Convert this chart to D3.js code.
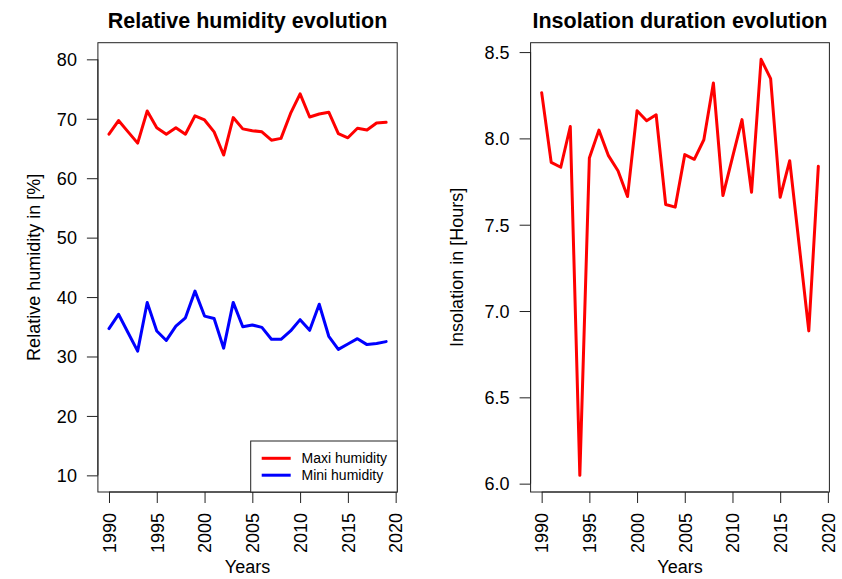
<!DOCTYPE html>
<html>
<head>
<meta charset="utf-8">
<script src="https://cdn.jsdelivr.net/npm/d3@7"></script>
<style>
  html, body { margin: 0; padding: 0; background: #fff; }
  svg { display: block; font-family: "Liberation Sans", Arial, sans-serif; }
</style>
</head>
<body>
<svg id="chart" width="842" height="579"></svg>
<script>
// ---------- data ----------
const years = d3.range(1990, 2020);
const maxiHumidity = [67.4, 69.7, 67.8, 65.9, 71.3, 68.5, 67.4, 68.5, 67.4, 70.5,
                      69.8, 67.8, 63.9, 70.2, 68.3, 68.0, 67.8, 66.4, 66.7, 70.9,
                      74.2, 70.3, 70.8, 71.1, 67.5, 66.8, 68.4, 68.1, 69.3, 69.4];
const miniHumidity = [34.7, 37.1, 34.0, 30.9, 39.1, 34.3, 32.7, 35.1, 36.5, 41.0,
                      36.8, 36.4, 31.4, 39.1, 35.0, 35.3, 34.9, 32.9, 32.9, 34.3,
                      36.2, 34.4, 38.8, 33.4, 31.2, 32.1, 33.0, 32.0, 32.2, 32.5];
const insolation = [8.265, 7.861, 7.833, 8.069, 6.048, 7.887, 8.048, 7.900, 7.813, 7.663,
                    8.160, 8.102, 8.137, 7.617, 7.602, 7.906, 7.879, 7.992, 8.321, 7.669,
                    7.890, 8.109, 7.688, 8.458, 8.346, 7.659, 7.871, 7.378, 6.885, 7.838];
const xTicks = [1990, 1995, 2000, 2005, 2010, 2015, 2020];
const humTicks = [10, 20, 30, 40, 50, 60, 70, 80];
const insTicks = [6.0, 6.5, 7.0, 7.5, 8.0, 8.5];
const legendLabels = ["Maxi humidity", "Mini humidity"];
const seriesColors = ["#FF0000", "#0000FF"];

// ---------- layout ----------
const svg = d3.select("#chart");
const plotTop = 42.7, plotBottom = 492;
const TICK = 11;
const FS = 18;

function ext(lo, hi) { const r = hi - lo; return [lo - 0.04 * r, hi + 0.04 * r]; }

function panel(opts) {
  const g = svg.append("g");
  const x = d3.scaleLinear().domain(ext(1990, 2019)).range([opts.left, opts.right]);
  const y = d3.scaleLinear().domain(opts.yDomain).range([plotBottom, plotTop]);

  opts.series.forEach((s) => {
    const line = d3.line().x((d, j) => x(years[j])).y(d => y(d));
    g.append("path").datum(s.values)
      .attr("d", line)
      .attr("fill", "none")
      .attr("stroke", s.color)
      .attr("stroke-width", 3)
      .attr("stroke-linejoin", "round")
      .attr("stroke-linecap", "round");
  });

  g.append("rect")
    .attr("x", opts.left).attr("y", plotTop)
    .attr("width", opts.right - opts.left).attr("height", plotBottom - plotTop)
    .attr("fill", "none").attr("stroke", "#222").attr("stroke-width", 1);

  const xa = g.append("g").attr("transform", `translate(0,${plotBottom})`)
    .call(d3.axisBottom(x).tickValues(xTicks).tickSize(TICK).tickSizeOuter(0).tickFormat(d3.format("d")));
  xa.select(".domain").attr("d", `M${x(1990)},0H${x(2020)}`).attr("stroke", "#222");
  xa.selectAll(".tick line").attr("stroke", "#222");
  xa.selectAll(".tick text")
    .attr("font-size", FS).attr("fill", "#000")
    .attr("text-anchor", "end")
    .attr("transform", "rotate(-90)")
    .attr("x", -(TICK + 10)).attr("y", 0).attr("dy", "0.35em");

  const ya = g.append("g").attr("transform", `translate(${opts.left},0)`)
    .call(d3.axisLeft(y).tickValues(opts.yTicks).tickSize(TICK).tickSizeOuter(0).tickFormat(opts.fmt));
  ya.select(".domain").attr("d", `M0,${y(opts.yTicks[0])}V${y(opts.yTicks[opts.yTicks.length - 1])}`).attr("stroke", "#222");
  ya.selectAll(".tick line").attr("stroke", "#222");
  ya.selectAll(".tick text")
    .attr("font-size", FS).attr("fill", "#000")
    .attr("x", -(TICK + 10)).attr("dy", "0.35em");

  const cx = (opts.left + opts.right) / 2;
  g.append("text").attr("x", cx).attr("y", 28)
    .attr("text-anchor", "middle").attr("font-weight", "bold").attr("font-size", 21.5)
    .text(opts.title);
  g.append("text").attr("x", cx).attr("y", 573)
    .attr("text-anchor", "middle").attr("font-size", FS).text("Years");
  g.append("text")
    .attr("transform", `translate(${opts.ylabX},${(plotTop + plotBottom) / 2}) rotate(-90)`)
    .attr("text-anchor", "middle").attr("font-size", FS).text(opts.ylab);
  return { g, x, y };
}

const p1 = panel({
  left: 97.9, right: 397.2,
  yDomain: ext(10, 80), yTicks: humTicks, fmt: d3.format("d"),
  title: "Relative humidity evolution", ylab: "Relative humidity in [%]", ylabX: 39.5,
  series: [{ values: maxiHumidity, color: seriesColors[0] }, { values: miniHumidity, color: seriesColors[1] }]
});

const p2 = panel({
  left: 530.6, right: 829.4,
  yDomain: ext(d3.min(insolation), d3.max(insolation)), yTicks: insTicks, fmt: d3.format(".1f"),
  title: "Insolation duration evolution", ylab: "Insolation in [Hours]", ylabX: 463.3,
  series: [{ values: insolation, color: seriesColors[0] }]
});

// legend
const lg = p1.g.append("g");
const lgLeft = 250.7, lgTop = 441;
lg.append("rect").attr("x", lgLeft).attr("y", lgTop)
  .attr("width", 397.2 - lgLeft).attr("height", plotBottom - lgTop)
  .attr("fill", "#fff").attr("stroke", "#222").attr("stroke-width", 1);
legendLabels.forEach((lab, i) => {
  const yy = 458.3 + i * 16.9;
  lg.append("line").attr("x1", 261.7).attr("x2", 290.7).attr("y1", yy).attr("y2", yy)
    .attr("stroke", seriesColors[i]).attr("stroke-width", 3);
  lg.append("text").attr("x", 301.5).attr("y", yy).attr("dy", "0.35em")
    .attr("font-size", 14).text(lab);
});
</script>
</body>
</html>
